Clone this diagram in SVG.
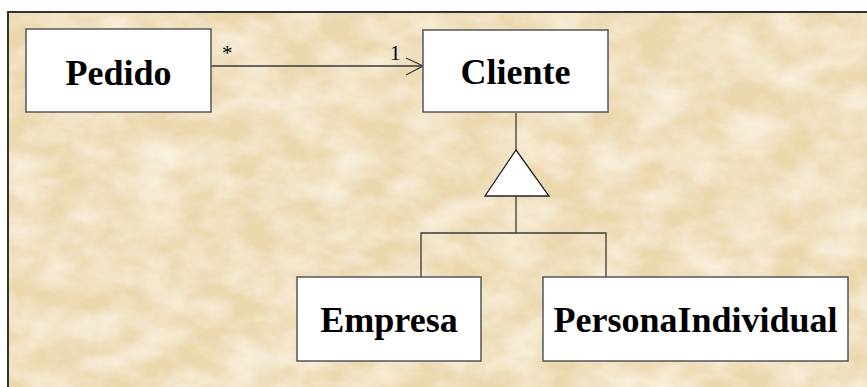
<svg xmlns="http://www.w3.org/2000/svg" width="867" height="387" viewBox="0 0 867 387">
<defs>
<style>
.box{fill:#fff;stroke:#555;stroke-width:1.5}
.ln{fill:none;stroke:#3a3a3a;stroke-width:1.3}
.lbl{font-family:"Liberation Serif","Times New Roman",serif;font-weight:bold;font-size:36px;fill:#000;text-anchor:middle}
.mul{font-family:"Liberation Serif","Times New Roman",serif;font-size:21px;fill:#000}
</style>
<filter id="tex" x="0" y="0" width="100%" height="100%">
<feTurbulence type="fractalNoise" baseFrequency="0.022 0.035" numOctaves="5" seed="3" result="n"/>
<feColorMatrix in="n" type="matrix" values="0 0 0 0 0.965  0 0 0 0 0.91  0 0 0 0 0.79  0 0 0 -1.4 1.0" result="c"/>
<feComposite in="c" in2="SourceGraphic" operator="over"/>
</filter>
</defs>
<rect width="867" height="387" fill="#fff"/>
<rect x="8" y="12" width="860" height="376" fill="#EBD7AC" filter="url(#tex)"/>
<path d="M8 387V12H867" fill="none" stroke="#333" stroke-width="2"/>
<g id="connectors">
<line class="ln" x1="211" y1="66" x2="423" y2="66"/>
<polyline class="ln" points="406,58 423,66 406,75"/>
<text class="mul" x="222" y="60">*</text>
<text class="mul" x="390" y="60">1</text>
<line class="ln" x1="516" y1="113" x2="516" y2="150"/>
<polygon points="516,150 549,196 485,196" fill="#fff" stroke="#222" stroke-width="1.3"/>
<polyline class="ln" points="516,196 516,233"/>
<polyline class="ln" points="421,277 421,233 606,233 606,277"/>
</g>
<g id="pedido"><rect class="box" x="26" y="29" width="185" height="83"/><text class="lbl" x="118.5" y="85">Pedido</text></g>
<g id="cliente"><rect class="box" x="423" y="30" width="185" height="82"/><text class="lbl" x="515.5" y="84">Cliente</text></g>
<g id="empresa"><rect class="box" x="297" y="277" width="184" height="84"/><text class="lbl" x="389" y="332">Empresa</text></g>
<g id="persona"><rect class="box" x="543" y="277" width="305" height="84"/><text class="lbl" x="695.5" y="332">PersonaIndividual</text></g>
</svg>
